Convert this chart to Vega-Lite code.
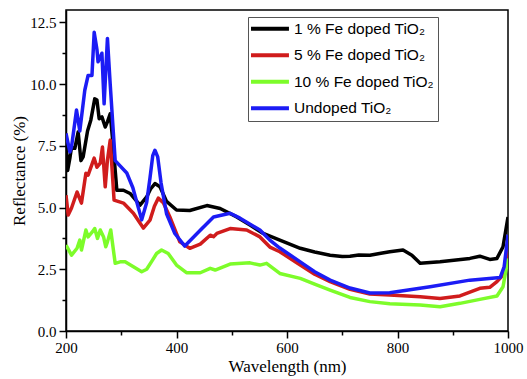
{
"$schema": "https://vega.github.io/schema/vega-lite/v6.json",
"width": 442, "height": 321,
"autosize": {"type": "none"},
"padding": {"left": 66, "top": 10, "right": 19, "bottom": 48},
"background": "white",
"config": {"view": {"stroke": "#000", "strokeWidth": 1.5}},
"datasets": {"d": [
{"series":"1 % Fe doped TiO₂","w":200,"r":7.6},{"series":"1 % Fe doped TiO₂","w":203,"r":6.5},{"series":"1 % Fe doped TiO₂","w":207,"r":7.0},{"series":"1 % Fe doped TiO₂","w":210,"r":7.45},{"series":"1 % Fe doped TiO₂","w":216,"r":7.4},{"series":"1 % Fe doped TiO₂","w":222,"r":8.06},{"series":"1 % Fe doped TiO₂","w":227,"r":6.9},{"series":"1 % Fe doped TiO₂","w":231,"r":7.05},{"series":"1 % Fe doped TiO₂","w":239,"r":8.1},{"series":"1 % Fe doped TiO₂","w":245,"r":8.55},{"series":"1 % Fe doped TiO₂","w":252,"r":9.4},{"series":"1 % Fe doped TiO₂","w":256,"r":9.35},{"series":"1 % Fe doped TiO₂","w":260,"r":8.6},{"series":"1 % Fe doped TiO₂","w":265,"r":8.67},{"series":"1 % Fe doped TiO₂","w":271,"r":8.26},{"series":"1 % Fe doped TiO₂","w":275,"r":8.47},{"series":"1 % Fe doped TiO₂","w":280,"r":8.8},{"series":"1 % Fe doped TiO₂","w":285,"r":7.6},{"series":"1 % Fe doped TiO₂","w":292,"r":5.7},{"series":"1 % Fe doped TiO₂","w":304,"r":5.7},{"series":"1 % Fe doped TiO₂","w":316,"r":5.57},{"series":"1 % Fe doped TiO₂","w":334,"r":5.1},{"series":"1 % Fe doped TiO₂","w":346,"r":5.43},{"series":"1 % Fe doped TiO₂","w":353,"r":5.75},{"series":"1 % Fe doped TiO₂","w":361,"r":5.97},{"series":"1 % Fe doped TiO₂","w":370,"r":5.84},{"series":"1 % Fe doped TiO₂","w":382,"r":5.25},{"series":"1 % Fe doped TiO₂","w":400,"r":4.9},{"series":"1 % Fe doped TiO₂","w":424,"r":4.88},{"series":"1 % Fe doped TiO₂","w":455,"r":5.08},{"series":"1 % Fe doped TiO₂","w":479,"r":4.96},{"series":"1 % Fe doped TiO₂","w":509,"r":4.62},{"series":"1 % Fe doped TiO₂","w":533,"r":4.29},{"series":"1 % Fe doped TiO₂","w":557,"r":3.95},{"series":"1 % Fe doped TiO₂","w":587,"r":3.68},{"series":"1 % Fe doped TiO₂","w":624,"r":3.35},{"series":"1 % Fe doped TiO₂","w":650,"r":3.2},{"series":"1 % Fe doped TiO₂","w":678,"r":3.07},{"series":"1 % Fe doped TiO₂","w":700,"r":3.02},{"series":"1 % Fe doped TiO₂","w":714,"r":3.03},{"series":"1 % Fe doped TiO₂","w":730,"r":3.08},{"series":"1 % Fe doped TiO₂","w":750,"r":3.07},{"series":"1 % Fe doped TiO₂","w":770,"r":3.15},{"series":"1 % Fe doped TiO₂","w":786,"r":3.21},{"series":"1 % Fe doped TiO₂","w":810,"r":3.28},{"series":"1 % Fe doped TiO₂","w":826,"r":3.07},{"series":"1 % Fe doped TiO₂","w":841,"r":2.74},{"series":"1 % Fe doped TiO₂","w":877,"r":2.8},{"series":"1 % Fe doped TiO₂","w":931,"r":2.94},{"series":"1 % Fe doped TiO₂","w":949,"r":3.03},{"series":"1 % Fe doped TiO₂","w":967,"r":2.9},{"series":"1 % Fe doped TiO₂","w":980,"r":2.94},{"series":"1 % Fe doped TiO₂","w":991,"r":3.41},{"series":"1 % Fe doped TiO₂","w":1000,"r":4.62},
{"series":"5 % Fe doped TiO₂","w":200,"r":5.5},{"series":"5 % Fe doped TiO₂","w":204,"r":4.7},{"series":"5 % Fe doped TiO₂","w":210,"r":4.98},{"series":"5 % Fe doped TiO₂","w":220,"r":5.63},{"series":"5 % Fe doped TiO₂","w":228,"r":5.18},{"series":"5 % Fe doped TiO₂","w":236,"r":6.39},{"series":"5 % Fe doped TiO₂","w":240,"r":6.31},{"series":"5 % Fe doped TiO₂","w":251,"r":7.0},{"series":"5 % Fe doped TiO₂","w":256,"r":6.63},{"series":"5 % Fe doped TiO₂","w":262,"r":6.8},{"series":"5 % Fe doped TiO₂","w":266,"r":7.45},{"series":"5 % Fe doped TiO₂","w":271,"r":5.84},{"series":"5 % Fe doped TiO₂","w":275,"r":6.92},{"series":"5 % Fe doped TiO₂","w":280,"r":7.73},{"series":"5 % Fe doped TiO₂","w":287,"r":5.3},{"series":"5 % Fe doped TiO₂","w":304,"r":5.18},{"series":"5 % Fe doped TiO₂","w":322,"r":4.77},{"series":"5 % Fe doped TiO₂","w":340,"r":4.17},{"series":"5 % Fe doped TiO₂","w":352,"r":4.49},{"series":"5 % Fe doped TiO₂","w":360,"r":5.05},{"series":"5 % Fe doped TiO₂","w":367,"r":5.38},{"series":"5 % Fe doped TiO₂","w":376,"r":5.2},{"series":"5 % Fe doped TiO₂","w":388,"r":4.62},{"series":"5 % Fe doped TiO₂","w":406,"r":3.61},{"series":"5 % Fe doped TiO₂","w":424,"r":3.35},{"series":"5 % Fe doped TiO₂","w":443,"r":3.52},{"series":"5 % Fe doped TiO₂","w":461,"r":3.88},{"series":"5 % Fe doped TiO₂","w":467,"r":3.82},{"series":"5 % Fe doped TiO₂","w":473,"r":3.95},{"series":"5 % Fe doped TiO₂","w":497,"r":4.15},{"series":"5 % Fe doped TiO₂","w":527,"r":4.09},{"series":"5 % Fe doped TiO₂","w":551,"r":3.81},{"series":"5 % Fe doped TiO₂","w":569,"r":3.4},{"series":"5 % Fe doped TiO₂","w":587,"r":3.21},{"series":"5 % Fe doped TiO₂","w":624,"r":2.67},{"series":"5 % Fe doped TiO₂","w":650,"r":2.3},{"series":"5 % Fe doped TiO₂","w":678,"r":2.0},{"series":"5 % Fe doped TiO₂","w":714,"r":1.69},{"series":"5 % Fe doped TiO₂","w":750,"r":1.5},{"series":"5 % Fe doped TiO₂","w":786,"r":1.46},{"series":"5 % Fe doped TiO₂","w":841,"r":1.39},{"series":"5 % Fe doped TiO₂","w":877,"r":1.32},{"series":"5 % Fe doped TiO₂","w":913,"r":1.42},{"series":"5 % Fe doped TiO₂","w":949,"r":1.73},{"series":"5 % Fe doped TiO₂","w":967,"r":1.77},{"series":"5 % Fe doped TiO₂","w":980,"r":2.0},{"series":"5 % Fe doped TiO₂","w":991,"r":2.27},{"series":"5 % Fe doped TiO₂","w":1000,"r":3.4},
{"series":"10 % Fe doped TiO₂","w":200,"r":3.48},{"series":"10 % Fe doped TiO₂","w":210,"r":3.07},{"series":"10 % Fe doped TiO₂","w":220,"r":3.35},{"series":"10 % Fe doped TiO₂","w":225,"r":3.68},{"series":"10 % Fe doped TiO₂","w":228,"r":3.28},{"series":"10 % Fe doped TiO₂","w":236,"r":4.09},{"series":"10 % Fe doped TiO₂","w":240,"r":3.81},{"series":"10 % Fe doped TiO₂","w":248,"r":4.02},{"series":"10 % Fe doped TiO₂","w":252,"r":4.15},{"series":"10 % Fe doped TiO₂","w":257,"r":3.75},{"series":"10 % Fe doped TiO₂","w":262,"r":4.09},{"series":"10 % Fe doped TiO₂","w":268,"r":3.81},{"series":"10 % Fe doped TiO₂","w":272,"r":3.41},{"series":"10 % Fe doped TiO₂","w":275,"r":3.61},{"series":"10 % Fe doped TiO₂","w":281,"r":4.09},{"series":"10 % Fe doped TiO₂","w":289,"r":2.74},{"series":"10 % Fe doped TiO₂","w":298,"r":2.8},{"series":"10 % Fe doped TiO₂","w":307,"r":2.8},{"series":"10 % Fe doped TiO₂","w":322,"r":2.6},{"series":"10 % Fe doped TiO₂","w":337,"r":2.4},{"series":"10 % Fe doped TiO₂","w":346,"r":2.5},{"series":"10 % Fe doped TiO₂","w":356,"r":2.85},{"series":"10 % Fe doped TiO₂","w":364,"r":3.14},{"series":"10 % Fe doped TiO₂","w":373,"r":3.28},{"series":"10 % Fe doped TiO₂","w":385,"r":3.14},{"series":"10 % Fe doped TiO₂","w":400,"r":2.67},{"series":"10 % Fe doped TiO₂","w":418,"r":2.36},{"series":"10 % Fe doped TiO₂","w":443,"r":2.36},{"series":"10 % Fe doped TiO₂","w":461,"r":2.54},{"series":"10 % Fe doped TiO₂","w":470,"r":2.47},{"series":"10 % Fe doped TiO₂","w":497,"r":2.71},{"series":"10 % Fe doped TiO₂","w":533,"r":2.76},{"series":"10 % Fe doped TiO₂","w":551,"r":2.67},{"series":"10 % Fe doped TiO₂","w":563,"r":2.74},{"series":"10 % Fe doped TiO₂","w":587,"r":2.33},{"series":"10 % Fe doped TiO₂","w":624,"r":2.13},{"series":"10 % Fe doped TiO₂","w":650,"r":1.9},{"series":"10 % Fe doped TiO₂","w":678,"r":1.66},{"series":"10 % Fe doped TiO₂","w":714,"r":1.36},{"series":"10 % Fe doped TiO₂","w":750,"r":1.19},{"series":"10 % Fe doped TiO₂","w":786,"r":1.1},{"series":"10 % Fe doped TiO₂","w":841,"r":1.05},{"series":"10 % Fe doped TiO₂","w":877,"r":0.98},{"series":"10 % Fe doped TiO₂","w":913,"r":1.12},{"series":"10 % Fe doped TiO₂","w":949,"r":1.28},{"series":"10 % Fe doped TiO₂","w":980,"r":1.42},{"series":"10 % Fe doped TiO₂","w":991,"r":1.79},{"series":"10 % Fe doped TiO₂","w":1000,"r":2.94},
{"series":"Undoped TiO₂","w":200,"r":8.0},{"series":"Undoped TiO₂","w":207,"r":7.25},{"series":"Undoped TiO₂","w":210,"r":7.45},{"series":"Undoped TiO₂","w":219,"r":8.95},{"series":"Undoped TiO₂","w":225,"r":8.1},{"series":"Undoped TiO₂","w":234,"r":9.75},{"series":"Undoped TiO₂","w":240,"r":10.35},{"series":"Undoped TiO₂","w":247,"r":10.35},{"series":"Undoped TiO₂","w":251,"r":12.1},{"series":"Undoped TiO₂","w":256,"r":11.4},{"series":"Undoped TiO₂","w":258,"r":10.9},{"series":"Undoped TiO₂","w":265,"r":11.25},{"series":"Undoped TiO₂","w":269,"r":9.2},{"series":"Undoped TiO₂","w":275,"r":11.85},{"series":"Undoped TiO₂","w":280,"r":10.0},{"series":"Undoped TiO₂","w":289,"r":6.9},{"series":"Undoped TiO₂","w":310,"r":6.4},{"series":"Undoped TiO₂","w":321,"r":5.8},{"series":"Undoped TiO₂","w":337,"r":4.5},{"series":"Undoped TiO₂","w":346,"r":5.2},{"series":"Undoped TiO₂","w":352,"r":6.2},{"series":"Undoped TiO₂","w":357,"r":7.1},{"series":"Undoped TiO₂","w":361,"r":7.32},{"series":"Undoped TiO₂","w":366,"r":7.05},{"series":"Undoped TiO₂","w":372,"r":6.0},{"series":"Undoped TiO₂","w":382,"r":4.75},{"series":"Undoped TiO₂","w":397,"r":3.95},{"series":"Undoped TiO₂","w":415,"r":3.44},{"series":"Undoped TiO₂","w":443,"r":4.08},{"series":"Undoped TiO₂","w":467,"r":4.62},{"series":"Undoped TiO₂","w":497,"r":4.77},{"series":"Undoped TiO₂","w":515,"r":4.57},{"series":"Undoped TiO₂","w":551,"r":4.09},{"series":"Undoped TiO₂","w":569,"r":3.68},{"series":"Undoped TiO₂","w":587,"r":3.36},{"series":"Undoped TiO₂","w":624,"r":2.8},{"series":"Undoped TiO₂","w":650,"r":2.4},{"series":"Undoped TiO₂","w":678,"r":2.06},{"series":"Undoped TiO₂","w":714,"r":1.74},{"series":"Undoped TiO₂","w":750,"r":1.54},{"series":"Undoped TiO₂","w":786,"r":1.55},{"series":"Undoped TiO₂","w":859,"r":1.79},{"series":"Undoped TiO₂","w":931,"r":2.06},{"series":"Undoped TiO₂","w":986,"r":2.17},{"series":"Undoped TiO₂","w":993,"r":2.6},{"series":"Undoped TiO₂","w":1000,"r":3.9}
]},
"data": {"name": "d"},
"mark": {"type": "line", "strokeWidth": 3.5, "strokeJoin": "round", "clip": true},
"encoding": {
  "x": {"field": "w", "type": "quantitative",
    "scale": {"domain": [200, 1000], "nice": false, "zero": false},
    "axis": {"title": "Wavelength (nm)", "values": [200,300,400,500,600,700,800,900,1000],
      "labelExpr": "datum.value % 200 === 0 ? format(datum.value, 'd') : ''",
      "tickSize": {"condition": {"test": "datum.value % 200 === 0", "value": 7}, "value": 4},
      "grid": false, "domainColor": "#000", "domainWidth": 1.5, "tickColor": "#000", "tickWidth": 1.5,
      "labelFont": "Liberation Serif", "labelFontSize": 15, "labelColor": "#000", "labelPadding": 2,
      "labelFlush": false, "labelOverlap": false,
      "titleFont": "Liberation Serif", "titleFontSize": 17, "titleFontWeight": "normal", "titleColor": "#000", "titlePadding": 3}},
  "y": {"field": "r", "type": "quantitative",
    "scale": {"domain": [0, 13], "nice": false, "zero": false},
    "axis": {"title": "Reflectance (%)", "values": [0,1.25,2.5,3.75,5,6.25,7.5,8.75,10,11.25,12.5],
      "labelExpr": "datum.value % 2.5 === 0 ? format(datum.value, '.1f') : ''",
      "tickSize": {"condition": {"test": "datum.value % 2.5 === 0", "value": 7}, "value": 4},
      "grid": false, "domainColor": "#000", "domainWidth": 1.5, "tickColor": "#000", "tickWidth": 1.5,
      "labelFont": "Liberation Serif", "labelFontSize": 15, "labelColor": "#000", "labelPadding": 3,
      "labelFlush": false, "labelOverlap": false,
      "titleFont": "Liberation Serif", "titleFontSize": 17, "titleFontWeight": "normal", "titleColor": "#000", "titlePadding": 1}},
  "color": {"field": "series", "type": "nominal",
    "scale": {"domain": ["1 % Fe doped TiO₂", "5 % Fe doped TiO₂", "10 % Fe doped TiO₂", "Undoped TiO₂"],
              "range": ["#000000", "#d01c1c", "#7dfc2a", "#1c1cf5"]},
    "legend": {"title": null, "orient": "none", "legendX": 182, "legendY": 7,
      "symbolType": "M-1.843,0H6.157", "symbolSize": 90, "symbolStrokeWidth": 4,
      "labelFont": "Liberation Sans", "labelFontSize": 15.5, "labelColor": "#000", "labelOffset": 26.5,
      "rowPadding": 8.5, "padding": 4, "strokeColor": "#555", "fillColor": "white"}}
}
}
